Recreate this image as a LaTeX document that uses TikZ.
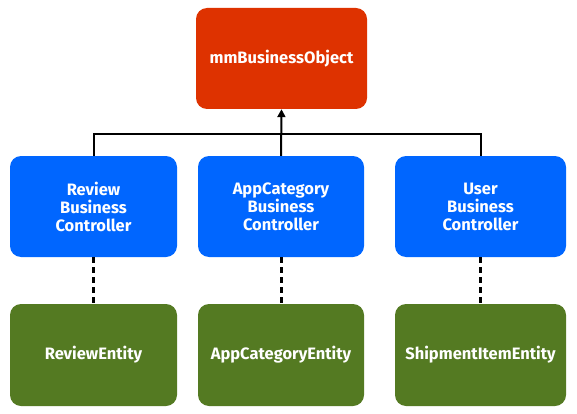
\documentclass[tikz,border=0pt]{standalone}
\usepackage{fontspec}
\setmainfont{Fira Sans}
\usetikzlibrary{arrows.meta}

\definecolor{objred}{RGB}{222,50,0}
\definecolor{ctrlblue}{RGB}{0,102,255}
\definecolor{entgreen}{RGB}{84,122,34}

\begin{document}
\begin{tikzpicture}[x=1pt,y=-1pt,
    box/.style={rounded corners=11pt,minimum width=168pt,minimum height=101pt,
      text=white,font=\fontsize{16.5}{18}\selectfont\bfseries,align=center,inner sep=0pt},
    link/.style={line width=2pt},
    dots/.style={line width=3pt,dash pattern=on 6pt off 4pt}]
   \useasboundingbox (0,0) rectangle (577,414);
   \node[box,fill=objred,minimum width=171pt] (obj) at (281.5,58.5) {mmBusinessObject};
   \node[box,fill=ctrlblue,minimum width=167pt] (revctrl) at (93.5,206.5) {Review\\Business\\Controller};
   \node[box,fill=ctrlblue,minimum width=166pt] (appctrl) at (281,206.5) {AppCategory\\Business\\Controller};
   \node[box,fill=ctrlblue,minimum width=171pt] (usrctrl) at (480.5,206.5) {User\\Business\\Controller};
   \node[box,fill=entgreen,minimum width=167pt,minimum height=102pt] (revent) at (93.5,355) {ReviewEntity};
   \node[box,fill=entgreen,minimum width=166pt,minimum height=102pt] (appent) at (281,355) {AppCategoryEntity};
   \node[box,fill=entgreen,minimum width=171pt,minimum height=102pt] (shipent) at (480.5,355) {ShipmentItemEntity};
   \coordinate (bar) at (281,134);
   \draw[link] (revctrl.north) |- (bar) -| (usrctrl.north);
   \draw[link,-{Triangle[length=8pt,width=8pt]}] (appctrl.north) -- (obj.south);
   \draw[dots] (revctrl.south) -- (revent.north);
   \draw[dots] (appctrl.south) -- (appent.north);
   \draw[dots] (usrctrl.south) -- (shipent.north);
\end{tikzpicture}
\end{document}
